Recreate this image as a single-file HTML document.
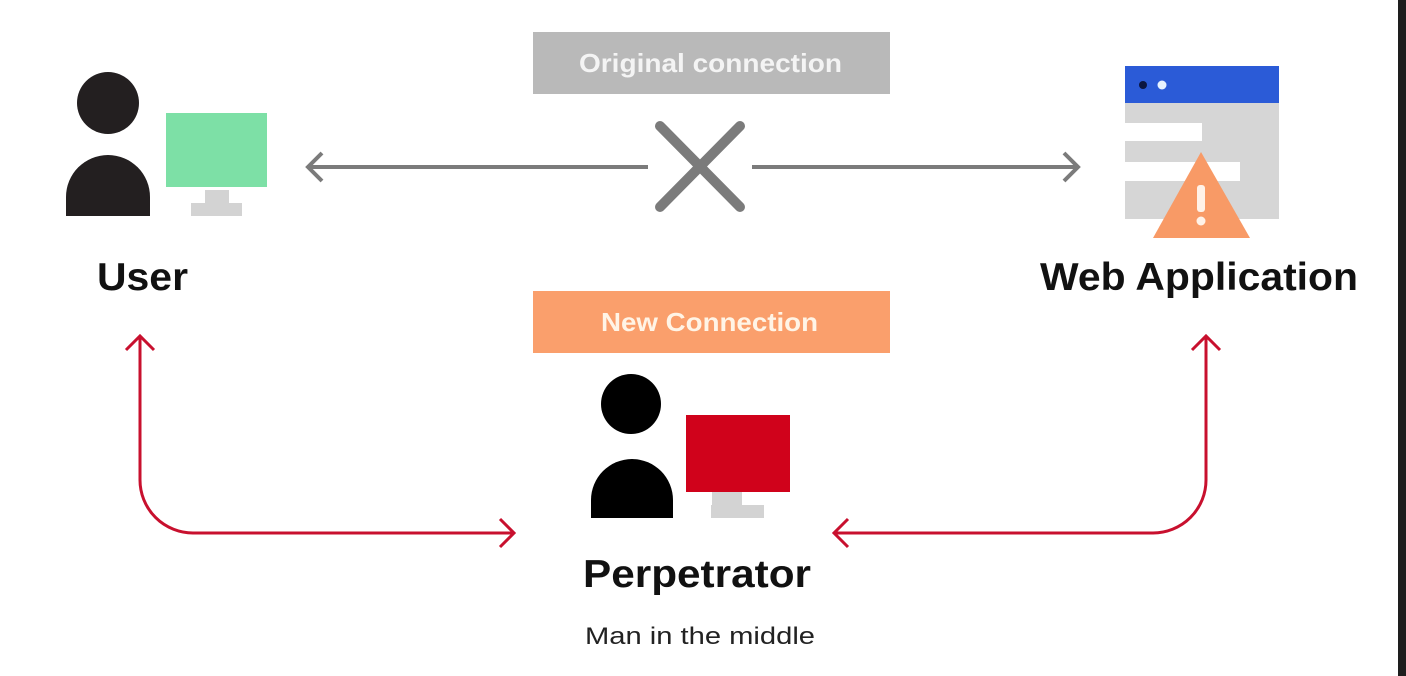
<!DOCTYPE html>
<html><head><style>
body{margin:0;width:1406px;height:676px;overflow:hidden;background:#fff;font-family:"Liberation Sans",sans-serif;}
</style></head><body>
<svg width="1406" height="676" xmlns="http://www.w3.org/2000/svg" style="position:absolute;left:0;top:0">
<rect x="1398" y="0" width="8" height="676" fill="#1e1e1e"/>
<circle cx="108" cy="103" r="31" fill="#231f20"/>
<path d="M66 216 V197 A42 42 0 0 1 150 197 V216 Z" fill="#231f20"/>
<rect x="166" y="113" width="101" height="74" fill="#7de0a6"/>
<rect x="205" y="190" width="24" height="13" fill="#d3d3d3"/>
<rect x="191" y="203" width="51" height="13" fill="#d3d3d3"/>
<text x="97" y="290" font-size="39" font-weight="bold" fill="#111" textLength="91" lengthAdjust="spacingAndGlyphs">User</text>
<rect x="1125" y="66" width="154" height="153" fill="#d6d6d6"/>
<rect x="1125" y="66" width="154" height="37" fill="#2b5bd7"/>
<circle cx="1143" cy="85" r="4" fill="#0b1640"/>
<circle cx="1162" cy="85" r="4.5" fill="#e8f4ff"/>
<rect x="1125" y="123" width="77" height="18" fill="#fff"/>
<rect x="1125" y="162" width="115" height="19" fill="#fff"/>
<polygon points="1201,152 1153,238 1250,238" fill="#f89a66"/>
<rect x="1197" y="185" width="8" height="27" rx="3" fill="#fff2e8"/>
<circle cx="1201" cy="221" r="4.5" fill="#fff2e8"/>
<text x="1040" y="290" font-size="39" font-weight="bold" fill="#111" textLength="318" lengthAdjust="spacingAndGlyphs">Web Application</text>
<rect x="533" y="32" width="357" height="62" fill="#b9b9b9"/>
<text x="579" y="72" font-size="26" font-weight="bold" fill="#f4f4f4" textLength="263" lengthAdjust="spacingAndGlyphs">Original connection</text>
<g stroke="#7b7b7b" stroke-width="4" fill="none">
<line x1="307" y1="167" x2="648" y2="167"/>
<line x1="752" y1="167" x2="1078" y2="167"/>
<polyline points="322,153 308,167 322,181"/>
<polyline points="1064,153 1078,167 1064,181"/>
</g>
<g stroke="#7b7b7b" stroke-width="10" stroke-linecap="round">
<line x1="660" y1="126" x2="740" y2="207"/>
<line x1="740" y1="126" x2="660" y2="207"/>
</g>
<rect x="533" y="291" width="357" height="62" fill="#fa9f6c"/>
<text x="601" y="331" font-size="26" font-weight="bold" fill="#fff4e6" textLength="217" lengthAdjust="spacingAndGlyphs">New Connection</text>
<circle cx="631" cy="404" r="30" fill="#000"/>
<path d="M591 518 V500 A41 41 0 0 1 673 500 V518 Z" fill="#000"/>
<rect x="686" y="415" width="104" height="77" fill="#d0021b"/>
<rect x="712" y="492" width="30" height="13" fill="#d3d3d3"/>
<rect x="711" y="505" width="53" height="13" fill="#d3d3d3"/>
<text x="583" y="587" font-size="39" font-weight="bold" fill="#111" textLength="228" lengthAdjust="spacingAndGlyphs">Perpetrator</text>
<text x="585" y="644" font-size="24" fill="#222" textLength="230" lengthAdjust="spacingAndGlyphs">Man in the middle</text>
<g stroke="#c8102e" stroke-width="3" fill="none">
<path d="M140 337 V480 A53 53 0 0 0 193 533 H514"/>
<polyline points="126,350 140,336 154,350"/>
<polyline points="500,519 514,533 500,547"/>
<path d="M834 533 H1153 A53 53 0 0 0 1206 480 V337"/>
<polyline points="1192,350 1206,336 1220,350"/>
<polyline points="848,519 834,533 848,547"/>
</g>
</svg>
</body></html>
